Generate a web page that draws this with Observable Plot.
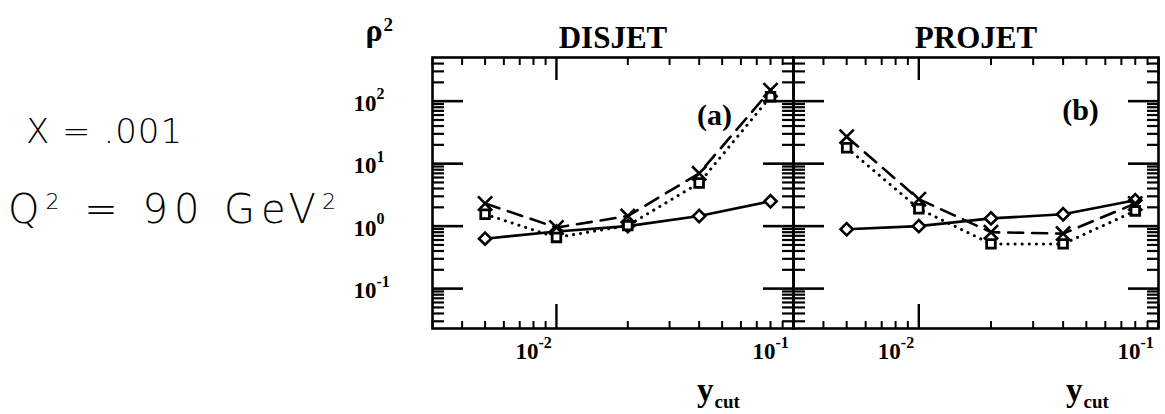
<!DOCTYPE html>
<html><head><meta charset="utf-8">
<script src="https://cdn.jsdelivr.net/npm/d3@7"></script>
<script src="https://cdn.jsdelivr.net/npm/@observablehq/plot@0.6"></script>
<style>
body{margin:0;background:#fff;}
#wrap{position:relative;width:1165px;height:414px;overflow:hidden;}
#wrap svg{position:absolute;top:0;overflow:visible;}
.hw{position:absolute;font-family:"DejaVu Sans";font-weight:200;color:#000;white-space:nowrap;}
</style></head>
<body><div id="wrap"></div>
<script>
const ycut = [0.005, 0.01, 0.02, 0.04, 0.08];
const panels = ["DISJET", "PROJET"];
const panelTags = ["(a)", "(b)"];
const disjetDiamond = [0.63, 0.82, 1.0, 1.45, 2.5];
const disjetCross   = [2.3, 0.95, 1.45, 7.0, 150];
const disjetSquare  = [1.55, 0.66, 1.02, 4.9, 118];
const projetDiamond = [0.89, 1.0, 1.33, 1.55, 2.6];
const projetCross   = [27, 2.7, 0.8, 0.76, 2.3];
const projetSquare  = [18, 1.9, 0.52, 0.52, 1.75];
const xMajor = [0.01, 0.1];
const xMajorExp = ["-2", "-1"];
const xMinor = [0.003,0.004,0.005,0.006,0.007,0.008,0.009,0.02,0.03,0.04,0.05,0.06,0.07,0.08,0.09];
const yMajor = [0.1, 1, 10, 100];
const yMajorExp = ["-1", "0", "1", "2"];
const yMinor = [0.03,0.04,0.05,0.06,0.07,0.08,0.09,0.2,0.3,0.4,0.5,0.6,0.7,0.8,0.9,2,3,4,5,6,7,8,9,20,30,40,50,60,70,80,90,200,300,400];
const xDomain = [0.003, 0.1];
const yDomain = [0.023, 500];

const serif = "Liberation Serif, Times New Roman, serif";
const wrap = document.getElementById("wrap");

function series(vals, name) { return ycut.map((x, i) => ({x, y: vals[i], s: name})); }

function panel(idx, diamonds, crosses, squares, opts) {
  const dD = series(diamonds, "diamond"), dC = series(crosses, "cross"), dS = series(squares, "square");
  const yx = yMajor.map((v, i) => ({v, e: yMajorExp[i]}));
  const xx = xMajor.map((v, i) => ({v, e: xMajorExp[i]}));
  const marks = [
    Plot.frame({stroke: "#000", strokeWidth: 2.6}),
    Plot.axisX(xMinor, {anchor: "bottom", tickSize: -7, strokeWidth: 2, tickFormat: () => "", label: null}),
    Plot.axisX(xMinor, {anchor: "top", tickSize: -7, strokeWidth: 2, tickFormat: () => "", label: null}),
    Plot.axisX(xMajor, {anchor: "bottom", tickSize: -24, strokeWidth: 2.4, tickFormat: () => "", label: null}),
    Plot.axisX(xMajor, {anchor: "top", tickSize: -22, strokeWidth: 2.4, tickFormat: () => "", label: null}),
    Plot.axisY(yMinor, {anchor: "left", tickSize: -12, strokeWidth: 2.2, tickFormat: () => "", label: null}),
    Plot.axisY(yMinor, {anchor: "right", tickSize: -12, strokeWidth: 2.2, tickFormat: () => "", label: null}),
    Plot.axisY(yMajor, {anchor: "left", tickSize: -31, strokeWidth: 2.6, tickFormat: () => "", label: null}),
    Plot.axisY(yMajor, {anchor: "right", tickSize: -31, strokeWidth: 2.6, tickFormat: () => "", label: null}),
    Plot.text(xx, {x: "v", frameAnchor: "bottom", text: () => "10", textAnchor: "end", lineAnchor: "top", dx: -18, dy: 14, fontSize: 23, fontWeight: "bold", fontFamily: serif}),
    Plot.text(xx, {x: "v", frameAnchor: "bottom", text: "e", textAnchor: "start", lineAnchor: "top", dx: -18, dy: 8, fontSize: 16, fontWeight: "bold", fontFamily: serif}),
    Plot.line(dS, {x: "x", y: "y", stroke: "#000", strokeWidth: 3, strokeDasharray: "0.1,7", strokeLinecap: "round"}),
    Plot.line(dC, {x: "x", y: "y", stroke: "#000", strokeWidth: 2.6, strokeDasharray: "15,9"}),
    Plot.line(dD, {x: "x", y: "y", stroke: "#000", strokeWidth: 2.6}),
    Plot.dot(dD, {x: "x", y: "y", symbol: "diamond2", r: 5.5, stroke: "#000", strokeWidth: 2.6, fill: "#fff"}),
    Plot.dot(dS, {x: "x", y: "y", symbol: "square2", r: 5.5, stroke: "#000", strokeWidth: 2.8, fill: "#fff"}),
    Plot.dot(dC, {x: "x", y: "y", symbol: "times", r: 6.5, stroke: "#000", strokeWidth: 2.6}),
    Plot.text([panels[idx]], {frameAnchor: "top", text: d => d, lineAnchor: "bottom", dy: -10, fontSize: 31, fontFamily: serif, fontWeight: "bold", letterSpacing: 1}),
    Plot.text([panelTags[idx]], {frameAnchor: "top-right", text: d => d, textAnchor: "middle", lineAnchor: "middle", dx: opts.tagDx, dy: opts.tagDy, fontSize: 30, fontFamily: serif, fontWeight: "bold"}),
    Plot.text(["y"], {frameAnchor: "bottom-right", text: d => d, textAnchor: "end", lineAnchor: "bottom", dx: opts.ycutDx, dy: 72, fontSize: 33, fontFamily: serif, fontWeight: "bold"}),
    Plot.text(["cut"], {frameAnchor: "bottom-right", text: d => d, textAnchor: "start", lineAnchor: "bottom", dx: opts.ycutDx + 1, dy: 79, fontSize: 19, fontFamily: serif, fontWeight: "bold"})
  ];
  if (idx === 0) {
    marks.push(
      Plot.text(yx, {y: "v", frameAnchor: "left", text: () => "10", textAnchor: "end", lineAnchor: "middle", dx: -56, dy: 2, fontSize: 23, fontWeight: "bold", fontFamily: serif}),
      Plot.text(yx, {y: "v", frameAnchor: "left", text: "e", textAnchor: "start", lineAnchor: "middle", dx: -56, dy: -7, fontSize: 16, fontWeight: "bold", fontFamily: serif}),
      Plot.text(["ρ"], {frameAnchor: "top-left", text: d => d, textAnchor: "start", lineAnchor: "bottom", dx: -67, dy: -17, fontSize: 32, fontFamily: serif, fontWeight: "bold"}),
      Plot.text(["2"], {frameAnchor: "top-left", text: d => d, textAnchor: "start", lineAnchor: "bottom", dx: -49, dy: -27, fontSize: 19, fontFamily: serif, fontWeight: "bold"})
    );
  }
  return Plot.plot({
    width: opts.width, height: 414,
    marginLeft: opts.ml, marginRight: opts.mr, marginTop: 57, marginBottom: 86,
    x: {type: "log", domain: xDomain},
    y: {type: "log", domain: yDomain},
    style: {background: "transparent", overflow: "visible"},
    marks
  });
}

const a = panel(0, disjetDiamond, disjetCross, disjetSquare, {width: 793, ml: 432, mr: 0, tagDx: -79, tagDy: 58, ycutDx: -80});
a.style.left = "0px";
wrap.appendChild(a);
const b = panel(1, projetDiamond, projetCross, projetSquare, {width: 372, ml: 0, mr: 7, tagDx: -78, tagDy: 53, ycutDx: -76});
b.style.left = "793px";
wrap.appendChild(b);

const notes = [
  {text: "X = .001", left: 26, top: 111, size: 34, spacing: 1},
  {html: "Q<sup style='font-size:22px'>2</sup> = 90 GeV<sup style='font-size:22px'>2</sup>", left: 8, top: 186, size: 40, spacing: 6}
];
for (const n of notes) {
  const d = document.createElement("div");
  d.className = "hw";
  d.style.left = n.left + "px"; d.style.top = n.top + "px";
  d.style.fontSize = n.size + "px"; d.style.letterSpacing = n.spacing + "px";
  if (n.html) d.innerHTML = n.html; else d.textContent = n.text;
  wrap.appendChild(d);
}
</script></body></html>
